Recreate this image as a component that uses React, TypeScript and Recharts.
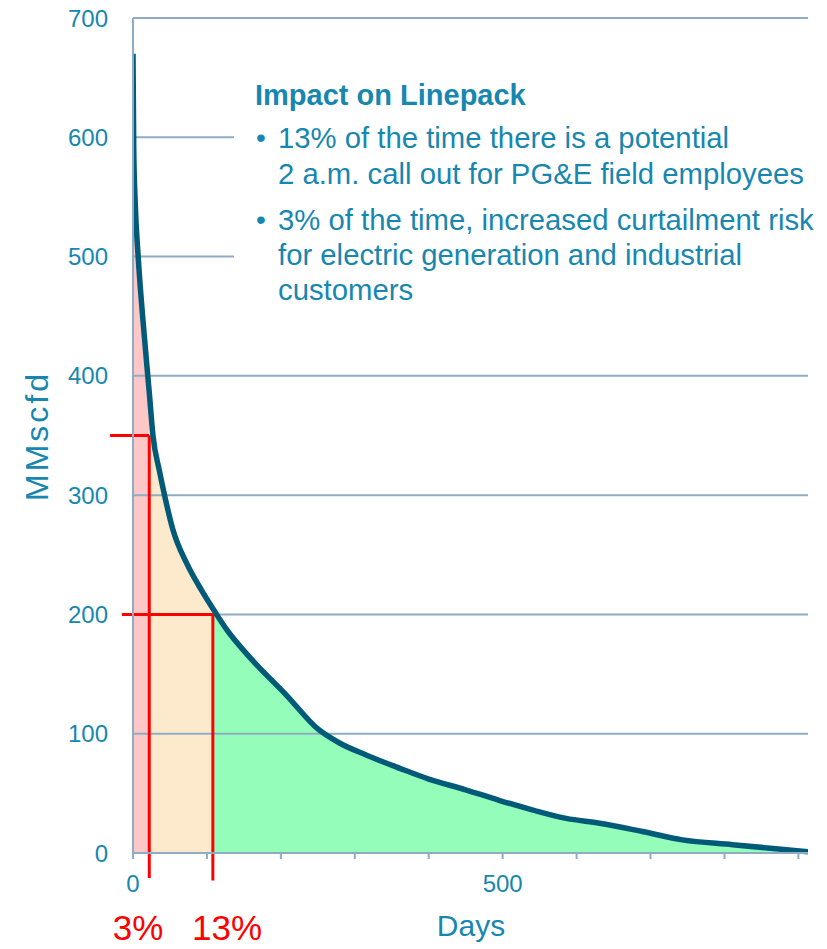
import React from "react";
import {
  ComposedChart,
  Area,
  Line,
  XAxis,
  YAxis,
  ReferenceLine,
} from "recharts";

// load duration curve
const days = [0, 1, 3, 7, 13, 20, 22, 27, 35.5, 43, 54, 72.5, 93, 108, 127, 158, 208, 250, 280, 316, 361, 400, 450, 496, 541, 586, 631, 689, 743, 811, 913];
const mmscfd = [670, 590, 545, 500, 450, 400, 386, 350, 321, 299, 271, 243, 220, 205, 187, 164, 132, 104, 92, 82, 71, 62, 53, 44, 36, 29, 25, 18, 11, 7, 1];

const xTicks = [0, 100, 200, 300, 400, 500, 600, 700, 800, 900];
const xLabelTicks = [0, 500];
const yTicks = [0, 100, 200, 300, 400, 500, 600, 700];

// 3% / 13% thresholds
const thresholdDays = [22, 108];
const thresholdLevels = [350, 200];
const thresholdLabels = ["3%", "13%"];
const thresholdLeft = [-31, -15];
const thresholdBottom = [-21, -23];

const TEAL = "#1787b0";
const LINE = "#005a78";
const GRID = "#8eacc6";
const RED = "#ff0000";
const FONT = "'Liberation Sans', Arial, sans-serif";

const data = days.map((d, i) => ({
  day: d,
  value: mmscfd[i],
  pink: d <= thresholdDays[0] ? mmscfd[i] : null,
  orange: d >= thresholdDays[0] && d <= thresholdDays[1] ? mmscfd[i] : null,
  green: d >= thresholdDays[1] ? mmscfd[i] : null,
}));

const textLines = [
  { t: "Impact on Linepack", bold: true, y: 95, bullet: false, indent: false },
  { t: "13% of the time there is a potential", bold: false, y: 138, bullet: true, indent: true },
  { t: "2 a.m. call out for PG&E field employees", bold: false, y: 174, bullet: false, indent: true },
  { t: "3% of the time, increased curtailment risk", bold: false, y: 220, bullet: true, indent: true },
  { t: "for electric generation and industrial", bold: false, y: 255, bullet: false, indent: true },
  { t: "customers", bold: false, y: 290, bullet: false, indent: true },
];

export default function App() {
  return (
    <div style={{ position: "relative", width: 827, height: 949, fontFamily: FONT, background: "#fff" }}>
      <style>{`body{margin:0}`}</style>
      <ComposedChart
        width={827}
        height={949}
        data={data}
        margin={{ top: 18, right: 19, left: 0, bottom: 56 }}
      >
        <XAxis
          dataKey="day"
          type="number"
          domain={[0, 913]}
          ticks={xTicks}
          tickFormatter={(v) => (xLabelTicks.includes(v) ? String(v) : "")}
          height={40}
          stroke={GRID}
          strokeWidth={2}
          tickSize={6}
          tickMargin={16}
          tick={{ fill: TEAL, fontSize: 24, fontFamily: FONT }}
          allowDataOverflow
        />
        <YAxis
          type="number"
          domain={[0, 700]}
          ticks={yTicks}
          width={133}
          stroke={GRID}
          strokeWidth={2}
          tickLine={false}
          tickSize={0}
          tickMargin={25}
          tick={{ fill: TEAL, fontSize: 24, fontFamily: FONT }}
        />
        <Area dataKey="pink" type="monotone" fill="#fcc7c7" fillOpacity={1} stroke="none" isAnimationActive={false} />
        <Area dataKey="orange" type="monotone" fill="#fde9cc" fillOpacity={1} stroke="none" isAnimationActive={false} />
        <Area dataKey="green" type="monotone" fill="#94fdb9" fillOpacity={1} stroke="none" isAnimationActive={false} />
        {yTicks.slice(1).map((v) => (
          <ReferenceLine key={"g" + v} y={v} stroke={GRID} strokeWidth={2} />
        ))}
        {thresholdDays.map((d, i) => (
          <ReferenceLine
            key={"h" + i}
            ifOverflow="visible"
            segment={[{ x: thresholdLeft[i], y: thresholdLevels[i] }, { x: d, y: thresholdLevels[i] }]}
            stroke={RED}
            strokeWidth={3}
          />
        ))}
        {thresholdDays.map((d, i) => (
          <ReferenceLine
            key={"v" + i}
            ifOverflow="visible"
            segment={[{ x: d, y: thresholdLevels[i] }, { x: d, y: thresholdBottom[i] }]}
            stroke={RED}
            strokeWidth={3}
          />
        ))}
        <Line
          dataKey="value"
          type="monotone"
          stroke={LINE}
          strokeWidth={5.5}
          dot={false}
          isAnimationActive={false}
        />
      </ComposedChart>

      {/* annotation box */}
      <div style={{ position: "absolute", left: 234, top: 66, width: 593, height: 252, background: "#fff" }} />
      {textLines.map((l, i) => (
        <div
          key={i}
          style={{
            position: "absolute",
            left: l.indent ? 278 : 255,
            top: l.y - 18,
            height: 36,
            lineHeight: "36px",
            fontSize: l.bold ? 29 : 29.3,
            fontWeight: l.bold ? 700 : 400,
            color: TEAL,
            whiteSpace: "nowrap",
          }}
        >
          {l.bullet && (
            <span style={{ position: "absolute", left: -22, fontSize: 28 }}>•</span>
          )}
          {l.t}
        </div>
      ))}

      {/* axis titles */}
      <div
        style={{
          position: "absolute",
          left: 37,
          top: 436,
          transform: "translate(-50%, -50%) rotate(-90deg)",
          fontSize: 32,
          letterSpacing: 3,
          color: TEAL,
          whiteSpace: "nowrap",
        }}
      >
        MMscfd
      </div>
      <div
        style={{
          position: "absolute",
          left: 471,
          top: 926,
          transform: "translate(-50%, -50%)",
          fontSize: 30,
          color: TEAL,
          whiteSpace: "nowrap",
        }}
      >
        Days
      </div>

      {/* threshold labels */}
      {thresholdLabels.map((t, i) => (
        <div
          key={t}
          style={{
            position: "absolute",
            left: [138, 227][i],
            top: 914,
            transform: "translateX(-50%)",
            fontSize: 35,
            lineHeight: 0.8,
            color: RED,
            whiteSpace: "nowrap",
          }}
        >
          {t}
        </div>
      ))}
    </div>
  );
}
